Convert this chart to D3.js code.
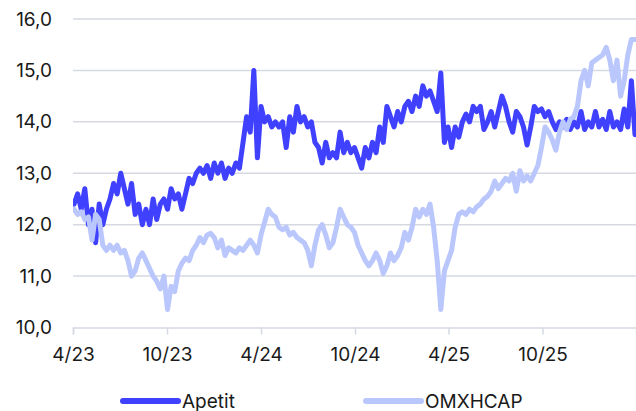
<!DOCTYPE html>
<html>
<head>
  <meta charset="utf-8">
  <script src="https://d3js.org/d3.v7.min.js"></script>
  <style type="text/css">
body { margin: 0; background: #fff; }
svg { display: block; }
text { font-family: Inter, "Noto Sans", sans-serif; fill: #1a1a1a; }
  </style>
</head>
<body>
<script type="text/javascript">
// weekly closes, first week starts 2023-04-03
var startDate = "2023-04-03";

var apetit = [
  12.4, 12.6, 12.3, 12.7, 12.0, 12.3, 11.65, 12.4, 12.0, 12.3,
  12.5, 12.8, 12.6, 13.0, 12.7, 12.4, 12.8, 12.2, 12.4, 12.0,
  12.3, 12.0, 12.5, 12.1, 12.4, 12.5, 12.3, 12.7, 12.5, 12.6,
  12.3, 12.6, 12.9, 12.8, 13.0, 13.1, 13.0, 13.15, 12.9, 13.2,
  13.0, 13.2, 12.9, 13.1, 13.0, 13.2, 13.1, 13.6, 14.1, 13.8,
  15.0, 13.3, 14.3, 14.0, 14.1, 13.9, 14.0, 13.9, 14.0, 13.5,
  14.1, 13.8, 14.3, 14.0, 14.1, 13.9, 14.0, 13.6, 13.5, 13.2,
  13.6, 13.3, 13.4, 13.3, 13.8, 13.4, 13.6, 13.4, 13.5, 13.3,
  13.1, 13.5, 13.3, 13.6, 13.4, 13.9, 13.6, 14.3, 14.1, 13.9,
  14.2, 14.0, 14.3, 14.4, 14.2, 14.5, 14.3, 14.7, 14.5, 14.6,
  14.4, 14.2, 14.95, 13.6, 13.9, 13.5, 13.9, 13.7, 14.0, 14.15,
  14.0, 14.3, 14.2, 14.3, 13.85, 14.0, 14.2, 13.9, 14.2, 14.5,
  14.3, 14.0, 13.8, 14.2, 14.1, 13.9, 13.55, 13.9, 14.3, 14.2,
  14.25, 14.1, 14.2, 14.0, 13.85, 14.0, 13.9, 14.05, 13.85, 14.0,
  13.9, 14.2, 13.85, 14.0, 13.9, 14.2, 13.9, 14.05, 13.85, 14.2,
  13.9, 14.0, 13.85, 14.25, 13.9, 14.8, 13.75
];

var omxhcap = [
  12.3, 12.2, 12.25, 12.1, 12.15, 11.7, 12.2, 12.1, 11.6, 11.5,
  11.6, 11.5, 11.6, 11.45, 11.5, 11.3, 11.0, 11.1, 11.35, 11.45,
  11.3, 11.15, 11.0, 10.9, 10.75, 11.0, 10.35, 10.8, 10.7, 11.1,
  11.25, 11.35, 11.3, 11.5, 11.6, 11.75, 11.65, 11.8, 11.83, 11.75,
  11.55, 11.7, 11.4, 11.55, 11.5, 11.45, 11.55, 11.5, 11.6, 11.7,
  11.6, 11.45, 11.8, 12.05, 12.3, 12.2, 12.15, 11.95, 11.9, 11.95,
  11.8, 11.85, 11.75, 11.7, 11.65, 11.5, 11.2, 11.6, 11.9, 12.0,
  11.8, 11.55, 11.65, 11.95, 12.3, 12.15, 12.0, 11.95, 11.85, 11.6,
  11.45, 11.3, 11.2, 11.3, 11.45, 11.3, 11.05, 11.2, 11.45, 11.3,
  11.4, 11.55, 11.85, 11.7, 11.95, 12.3, 12.15, 12.3, 12.2, 12.4,
  11.95, 11.3, 10.35, 11.1, 11.3, 11.5, 11.95, 12.2, 12.25, 12.2,
  12.3, 12.25, 12.35, 12.4, 12.5, 12.55, 12.65, 12.85, 12.7, 12.8,
  12.9, 12.85, 13.0, 12.65, 13.05, 12.85, 12.95, 12.85, 13.0, 13.15,
  13.5, 13.9, 13.8, 13.65, 13.45, 13.8, 14.0, 13.85, 14.05, 14.1,
  14.3, 14.8, 15.0, 14.7, 15.15, 15.2, 15.25, 15.3, 15.45, 15.2,
  14.8, 15.2, 14.5, 14.8, 15.3, 15.6, 15.6
];

var seriesNames = ["Apetit", "OMXHCAP"];
var seriesColors = ["#4040ff", "#bac7fd"];
var yTicks = [10, 11, 12, 13, 14, 15, 16];
var xTickDates = ["2023-04-01", "2023-10-01", "2024-04-01", "2024-10-01", "2025-04-01", "2025-10-01"];

var W = 636, H = 411;
var plot = {left: 73, right: 636, top: 19, bottom: 327.5};

var parse = d3.utcParse("%Y-%m-%d");
var t0 = parse(startDate);
function toPoints(vals) {
  return vals.map(function(v, i) { return {date: d3.utcDay.offset(t0, i * 7), value: v}; });
}

var svg = d3.select("body").append("svg")
  .attr("width", W)
  .attr("height", H);

var x = d3.scaleUtc()
  .domain([parse("2023-04-01"), parse("2026-04-01")])
  .range([plot.left, plot.right]);

var y = d3.scaleLinear()
  .domain([10, 16])
  .range([plot.bottom, plot.top]);

// horizontal grid
svg.append("g")
  .selectAll("line")
  .data(yTicks.slice(1))
  .enter().append("line")
  .attr("x1", plot.left)
  .attr("x2", plot.right)
  .attr("y1", function(d) { return y(d); })
  .attr("y2", function(d) { return y(d); })
  .attr("stroke", "#d6d9e2")
  .attr("stroke-width", 1.5);

// y labels
var fmt = function(d) { return d3.format(".1f")(d).replace(".", ","); };
svg.append("g")
  .selectAll("text")
  .data(yTicks)
  .enter().append("text")
  .attr("x", 52)
  .attr("y", function(d) { return y(d); })
  .attr("dy", "0.35em")
  .attr("text-anchor", "end")
  .style("font-size", "19px")
  .text(fmt);

// x axis
var xAxis = d3.axisBottom(x)
  .tickValues(xTickDates.map(parse))
  .tickSize(7)
  .tickPadding(13)
  .tickFormat(d3.utcFormat("%-m/%y"));

var gx = svg.append("g")
  .attr("transform", "translate(0," + plot.bottom + ")")
  .call(xAxis);
gx.select(".domain").attr("stroke", "#d6d9e2").attr("stroke-width", 1.5);
gx.selectAll(".tick line").attr("stroke", "#d6d9e2").attr("stroke-width", 1.5);
gx.selectAll(".tick text")
  .style("font-size", "19px")
  .style("font-family", "Inter, 'Noto Sans', sans-serif")
  .attr("fill", "#1a1a1a");

var line = d3.line()
  .x(function(d) { return x(d.date); })
  .y(function(d) { return y(d.value); });

svg.append("clipPath").attr("id", "clip")
  .append("rect")
  .attr("x", plot.left).attr("y", 0)
  .attr("width", plot.right - plot.left).attr("height", plot.bottom);

var data = [toPoints(apetit), toPoints(omxhcap)];

svg.append("g")
  .attr("clip-path", "url(#clip)")
  .selectAll("path")
  .data(data)
  .enter().append("path")
  .attr("d", line)
  .attr("fill", "none")
  .attr("stroke", function(d, i) { return seriesColors[i]; })
  .attr("stroke-width", 5)
  .attr("stroke-linejoin", "round")
  .attr("stroke-linecap", "round");

// legend
var legendX = [123, 366];
var legend = svg.selectAll(".legend")
  .data(seriesNames)
  .enter().append("g")
  .attr("class", "legend")
  .attr("transform", function(d, i) { return "translate(" + legendX[i] + ",401)"; });

legend.append("line")
  .attr("x1", 0).attr("x2", 55)
  .attr("stroke", function(d, i) { return seriesColors[i]; })
  .attr("stroke-width", 6)
  .attr("stroke-linecap", "round");

legend.append("text")
  .attr("x", 59)
  .attr("y", 7)
  .style("font-size", "19px")
  .text(function(d) { return d; });
</script>
</body>
</html>
